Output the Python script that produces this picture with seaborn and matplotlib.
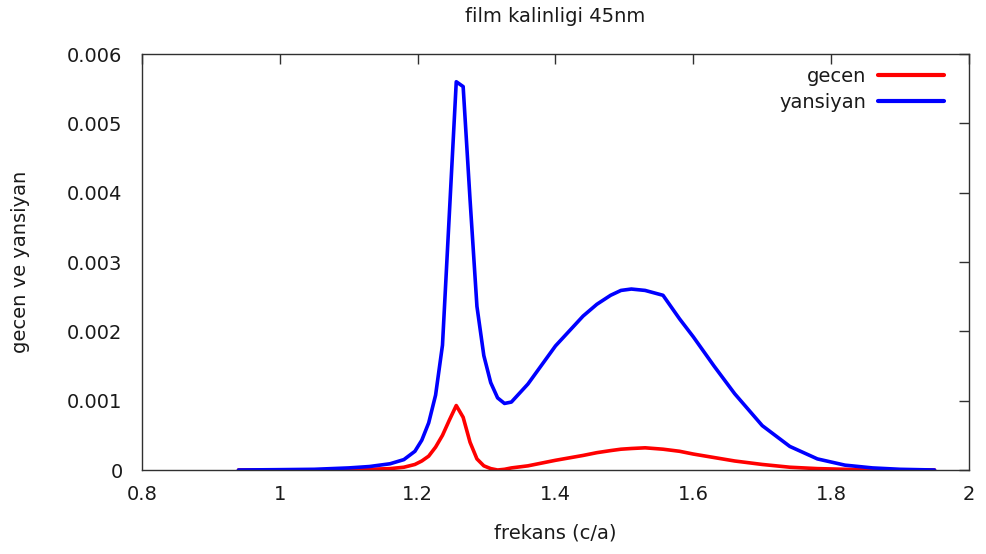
import matplotlib
matplotlib.use("Agg")
import matplotlib.pyplot as plt
import seaborn as sns
import pandas as pd

frekans = [0.94, 1.00, 1.05, 1.10, 1.13, 1.16, 1.18, 1.196, 1.206, 1.216, 1.226,
           1.236, 1.246, 1.256, 1.266, 1.276, 1.286, 1.296, 1.306, 1.316, 1.326,
           1.336, 1.36, 1.40, 1.44, 1.46, 1.48, 1.495, 1.51, 1.53, 1.556, 1.58,
           1.60, 1.63, 1.66, 1.70, 1.74, 1.78, 1.82, 1.86, 1.90, 1.95]

yansiyan = [0.0, 0.000005, 0.00001, 0.00003, 0.00005, 0.00009, 0.00015, 0.00027,
            0.00043, 0.00068, 0.00108, 0.0018, 0.0037, 0.0056, 0.00553, 0.0039,
            0.00236, 0.00165, 0.00126, 0.00104, 0.00096, 0.00098, 0.00124, 0.00179,
            0.00222, 0.00239, 0.00252, 0.00259, 0.00261, 0.00259, 0.00252, 0.00218,
            0.00192, 0.00150, 0.00110, 0.00064, 0.00034, 0.00016, 0.00007, 0.00003,
            0.00001, 0.0]

gecen = [0.0, 0.0, 0.000002, 0.000005, 0.00001, 0.00002, 0.00004, 0.00008,
         0.00013, 0.0002, 0.00033, 0.0005, 0.00072, 0.00093, 0.00076, 0.0004,
         0.00016, 0.00006, 0.00002, 0.0, 0.00001, 0.00003, 0.00006, 0.00014,
         0.00021, 0.00025, 0.00028, 0.0003, 0.00031, 0.00032, 0.0003, 0.00027,
         0.00023, 0.00018, 0.00013, 0.00008, 0.00004, 0.00002, 0.00001, 0.000003,
         0.0, 0.0]

xticks = [0.8, 1.0, 1.2, 1.4, 1.6, 1.8, 2.0]
xticklabels = ["0.8", "1", "1.2", "1.4", "1.6", "1.8", "2"]
yticks = [0, 0.001, 0.002, 0.003, 0.004, 0.005, 0.006]
yticklabels = ["0", "0.001", "0.002", "0.003", "0.004", "0.005", "0.006"]

sns.set_theme(style="white")
plt.rcParams["font.family"] = ["DejaVu Sans"]

df = pd.DataFrame({
    "frekans": frekans * 2,
    "deger": gecen + yansiyan,
    "seri": ["gecen"] * len(frekans) + ["yansiyan"] * len(frekans),
})

fig = plt.figure(figsize=(9.87, 5.54), dpi=100)
ax = fig.add_axes([142 / 987, 1 - 470 / 554, (969 - 142) / 987, (470 - 54) / 554])

sns.lineplot(data=df, x="frekans", y="deger", hue="seri",
             palette={"gecen": "#ff0000", "yansiyan": "#0000ff"},
             linewidth=2.6, ax=ax, sort=False, estimator=None)

ax.set_xlim(0.8, 2.0)
ax.set_ylim(0, 0.006)
ax.set_xticks(xticks)
ax.set_xticklabels(xticklabels)
ax.set_yticks(yticks)
ax.set_yticklabels(yticklabels)

fs = 14
ax.tick_params(direction="in", length=7, width=1, colors="#303030",
               top=True, right=True, labelsize=fs, labelcolor="#1a1a1a")
ax.tick_params(axis="y", pad=14)
ax.tick_params(axis="x", pad=11)
for sp in ax.spines.values():
    sp.set_color("#303030")
    sp.set_linewidth(1)

ax.set_xlabel("frekans (c/a)", fontsize=fs, color="#1a1a1a", labelpad=14)
ax.set_ylabel("gecen ve yansiyan", fontsize=fs, color="#1a1a1a", labelpad=27)
ax.set_title("film kalinligi 45nm", fontsize=fs, color="#1a1a1a", pad=23)

leg = ax.legend(loc="upper right", bbox_to_anchor=(1.0, 1.029), frameon=False,
                markerfirst=False, fontsize=fs, handlelength=3.4,
                borderaxespad=0.9, labelspacing=0.35, handletextpad=0.6,
                title=None)
for t in leg.get_texts():
    t.set_color("#1a1a1a")
for h in leg.get_lines():
    h.set_linewidth(3)

fig.savefig("out.png", dpi=100)
